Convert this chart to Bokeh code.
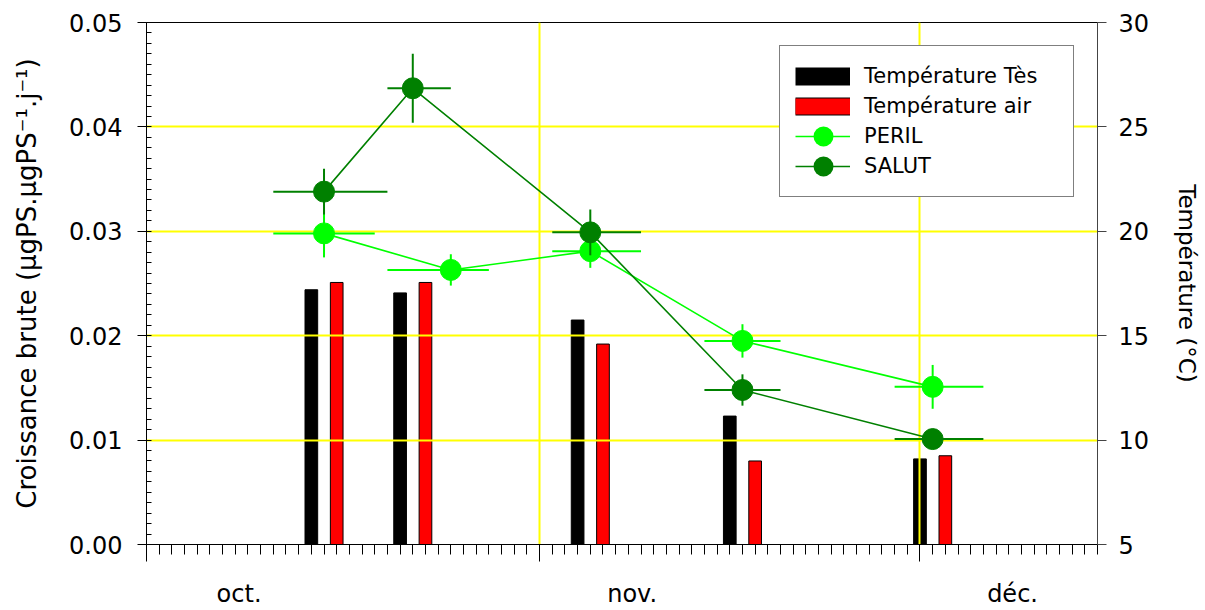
import numpy as np
import pandas as pd
from bokeh.plotting import figure
from bokeh.models import (Range1d, LinearAxis, FixedTicker, PrintfTickFormatter,
                          ColumnDataSource, Legend, LegendItem, Grid,
                          CustomLabelingPolicy)
from bokeh.embed import file_html
from bokeh.resources import INLINE

# ---------------- data ----------------
peril_dates = ["2003-10-15", "2003-10-25", "2003-11-05", "2003-11-17", "2003-12-02"]
peril_growth = [0.0298, 0.0263, 0.0281, 0.0195, 0.0151]
peril_err = [0.0023, 0.0015, 0.0016, 0.0016, 0.0021]
peril_days_before = [4, 5, 3, 3, 3]
peril_days_after = [4, 3, 4, 3, 4]

salut_dates = ["2003-10-15", "2003-10-22", "2003-11-05", "2003-11-17", "2003-12-02"]
salut_growth = [0.0338, 0.0437, 0.0299, 0.0148, 0.0101]
salut_err = [0.0022, 0.0033, 0.0022, 0.0015, 0.0005]
salut_days_before = [4, 2, 3, 3, 3]
salut_days_after = [5, 3, 4, 3, 4]

tes_dates = ["2003-10-14", "2003-10-21", "2003-11-04", "2003-11-16", "2003-12-01"]
temp_tes = [17.2, 17.05, 15.75, 11.15, 9.1]
air_dates = ["2003-10-16", "2003-10-23", "2003-11-06", "2003-11-18", "2003-12-03"]
temp_air = [17.55, 17.55, 14.6, 9.0, 9.25]

month_starts = ["2003-10-01", "2003-11-01", "2003-12-01"]
month_labels = ["oct.", "nov.", "déc."]
x_start, x_end = "2003-10-01", "2003-12-15"
growth_ticks = [0.0, 0.01, 0.02, 0.03, 0.04, 0.05]
temp_ticks = [5, 10, 15, 20, 25, 30]

# ---------------- helpers ----------------
DAY = 86400000
def ms(d):
    return int(pd.Timestamp(d).value // 10**6)

FONT = "DejaVu Sans"
TICK_FS = "24px"

x0, x1 = ms(x_start), ms(x_end)
month_ms = [ms(d) for d in month_starts]
day_ms = list(range(x0, x1 + 1, DAY))
label_ms = [m + int(7.3 * DAY) for m in month_ms]

p = figure(width=1205, height=610, x_axis_type=None, y_axis_type=None,
           x_range=Range1d(x0, x1), y_range=Range1d(0, 0.05),
           output_backend="svg", toolbar_location=None,
           min_border_left=146, min_border_right=108,
           min_border_top=22, min_border_bottom=61)
p.extra_y_ranges = {"temp": Range1d(5, 30)}
p.outline_line_color = "black"
p.outline_line_width = 1
p.background_fill_color = "white"

# ---------------- axes ----------------
no_labels = CustomLabelingPolicy(code="for (const i of indices) indices.unset(i)")
xa = LinearAxis(ticker=FixedTicker(ticks=month_ms, minor_ticks=day_ms),
                major_tick_out=17, major_tick_in=0,
                minor_tick_out=10, minor_tick_in=0,
                major_label_policy=no_labels,
                major_label_text_font_size="1px", major_label_standoff=0,
                axis_line_color="black", major_tick_line_color="black",
                minor_tick_line_color="black")
p.add_layout(xa, "below")

xl = LinearAxis(ticker=FixedTicker(ticks=label_ms),
                major_label_overrides={k: v for k, v in zip(label_ms, month_labels)},
                major_tick_out=0, major_tick_in=0, minor_tick_line_color=None,
                axis_line_color=None, major_tick_line_color=None,
                major_label_standoff=14,
                major_label_text_font=FONT, major_label_text_font_size=TICK_FS,
                major_label_text_color="black")
p.add_layout(xl, "below")

minor_growth = [round(i * 0.001, 3) for i in range(51)]
ya = LinearAxis(ticker=FixedTicker(ticks=growth_ticks, minor_ticks=minor_growth),
                formatter=PrintfTickFormatter(format="%.2f"),
                major_tick_out=9, major_tick_in=0, minor_tick_out=0, minor_tick_in=5,
                major_label_standoff=15,
                major_label_text_font=FONT, major_label_text_font_size=TICK_FS,
                major_label_text_color="black",
                axis_label="Croissance brute (\u00b5gPS.\u00b5gPS\u207b\u00b9.j\u207b\u00b9)",
                axis_label_text_font=FONT, axis_label_text_font_size="26px",
                axis_label_text_font_style="normal", axis_label_text_color="black",
                axis_label_standoff=24,
                axis_line_color="black", major_tick_line_color="black",
                minor_tick_line_color="black")
p.add_layout(ya, "left")

yr = LinearAxis(y_range_name="temp", ticker=FixedTicker(ticks=temp_ticks),
                major_tick_out=9, major_tick_in=0, minor_tick_line_color=None,
                major_label_standoff=12,
                major_label_text_font=FONT, major_label_text_font_size=TICK_FS,
                major_label_text_color="black",
                axis_label="Température (°C)",
                axis_label_text_font=FONT, axis_label_text_font_size="23px",
                axis_label_text_font_style="normal", axis_label_text_color="black",
                axis_label_standoff=22,
                axis_line_color="#444444", major_tick_line_color="#444444")
p.add_layout(yr, "right")

p.add_layout(Grid(dimension=0, ticker=FixedTicker(ticks=month_ms),
                  grid_line_color="#FFFF00", grid_line_width=2))
p.add_layout(Grid(dimension=1, ticker=FixedTicker(ticks=growth_ticks),
                  grid_line_color="#FFFF00", grid_line_width=2))

# ---------------- bars (temperature, right axis) ----------------
p.vbar(x=[ms(d) for d in tes_dates], top=temp_tes, bottom=5, width=DAY,
       fill_color="black", line_color="black", line_width=1,
       y_range_name="temp", level="image")
p.vbar(x=[ms(d) for d in air_dates], top=temp_air, bottom=5, width=DAY,
       fill_color="#FF0000", line_color="black", line_width=1,
       y_range_name="temp", level="image")

# ---------------- growth series ----------------
def series(dates, vals, err, before, after, color):
    xs = np.array([ms(d) for d in dates], dtype=float)
    v = np.array(vals)
    e = np.array(err)
    src = ColumnDataSource(dict(
        x=xs, y=v,
        xl=xs - np.array(before) * DAY, xr=xs + np.array(after) * DAY,
        yl=v - e, yh=v + e))
    p.segment(x0="xl", y0="y", x1="xr", y1="y", source=src,
              line_color=color, line_width=2)
    p.segment(x0="x", y0="yl", x1="x", y1="yh", source=src,
              line_color=color, line_width=2)
    ln = p.line(x="x", y="y", source=src, line_color=color, line_width=1.6)
    sc = p.scatter(x="x", y="y", source=src, size=21, marker="circle",
                   fill_color=color, line_color=color)
    return ln, sc

peril_line, peril_pts = series(peril_dates, peril_growth, peril_err,
                               peril_days_before, peril_days_after, "#00FF00")
salut_line, salut_pts = series(salut_dates, salut_growth, salut_err,
                               salut_days_before, salut_days_after, "#008000")

# ---------------- legend (legend-only swatches carry no data) ----------------
nanx = [np.nan, np.nan]
leg_tes = p.line(x=nanx, y=nanx, line_color="black", line_width=18, line_cap="butt")
leg_air_b = p.line(x=nanx, y=nanx, line_color="black", line_width=18, line_cap="butt")
leg_air_r = p.line(x=nanx, y=nanx, line_color="#FF0000", line_width=16, line_cap="butt")
leg_peril_dot = p.line(x=nanx, y=nanx, line_color="#00FF00", line_width=20,
                       line_cap="round", line_dash="0 100", line_dash_offset=72)
leg_salut_dot = p.line(x=nanx, y=nanx, line_color="#008000", line_width=20,
                       line_cap="round", line_dash="0 100", line_dash_offset=72)

legend = Legend(items=[
    LegendItem(label="Température Tès", renderers=[leg_tes]),
    LegendItem(label="Température air", renderers=[leg_air_b, leg_air_r]),
    LegendItem(label="PERIL", renderers=[peril_line, leg_peril_dot]),
    LegendItem(label="SALUT", renderers=[salut_line, leg_salut_dot]),
], location="top_right", margin=23, padding=15, spacing=0,
    glyph_width=55, glyph_height=30, label_height=30,
    label_standoff=14, label_width=194,
    label_text_font=FONT, label_text_font_size="21px", label_text_color="black",
    border_line_color="black", border_line_width=1,
    background_fill_color="white", background_fill_alpha=1.0)
p.add_layout(legend)

open("out.html", "w").write(file_html(p, INLINE))
